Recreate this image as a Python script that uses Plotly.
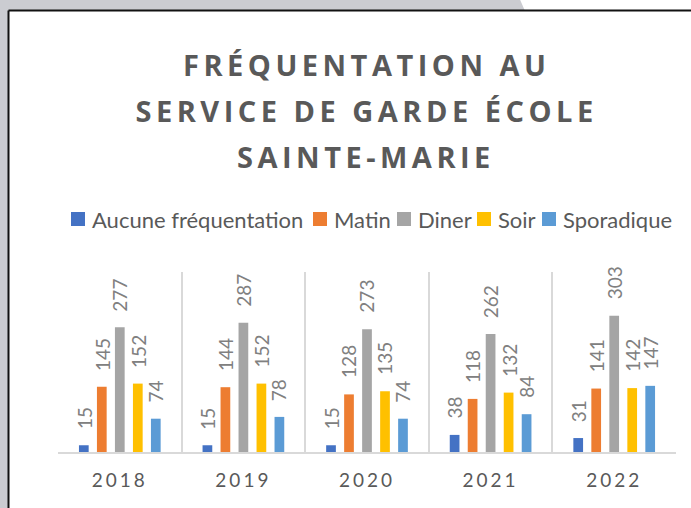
import plotly.graph_objects as go

years = ["2018", "2019", "2020", "2021", "2022"]
series_names = ["Aucune fréquentation", "Matin", "Diner", "Soir", "Sporadique"]
aucune = [15, 15, 15, 38, 31]
matin = [145, 144, 128, 118, 141]
diner = [277, 287, 273, 262, 303]
soir = [152, 152, 135, 132, 142]
sporadique = [74, 78, 74, 84, 147]
title_lines = ["FRÉQUENTATION AU", "SERVICE DE GARDE ÉCOLE", "SAINTE-MARIE"]

colors = ["#4472C4", "#ED7D31", "#A5A5A5", "#FFC000", "#5B9BD5"]
all_values = [aucune, matin, diner, soir, sporadique]

W, H = 691, 508
ML, MR, MT, MB = 58, 15, 272, 56
PW = W - ML - MR
PH = H - MT - MB
BARGAP = 0.272
BARGROUPGAP = 0.46


def px(x):
    return (x - ML) / PW


def py(y):
    return (H - MB - y) / PH


fig = go.Figure()
for name, vals, col in zip(series_names, all_values, colors):
    fig.add_trace(go.Bar(x=years, y=vals, name=name, marker_color=col,
                         marker_line_width=0, cliponaxis=False, showlegend=False))

# data labels (rotated) placed above each bar
n = len(series_names)
slot = (1 - BARGAP) / n
annotations = []
for j, vals in enumerate(all_values):
    for i, v in enumerate(vals):
        xc = i - (1 - BARGAP) / 2 + (j + 0.5) * slot
        annotations.append(dict(x=xc, y=v, xref="x", yref="y", text=str(v),
                                showarrow=False, textangle=-90,
                                xanchor="center", yanchor="bottom", yshift=14,
                                font=dict(family="Lato", size=19, color="#808080")))

# title lines
title_y = [64, 110, 156]
for t, yy in zip(title_lines, title_y):
    annotations.append(dict(x=px(366), y=py(yy), xref="paper", yref="paper",
                            text="<b>" + t + "</b>", showarrow=False,
                            xanchor="center", yanchor="middle",
                            font=dict(family="Open Sans", size=29, color="#595959")))

shapes = [
    # grey surround
    dict(type="rect", xref="paper", yref="paper", x0=px(-2), x1=px(9), y0=py(H + 5), y1=py(-5),
         fillcolor="#CBCCD1", line_width=0, layer="below"),
    dict(type="path", xref="paper", yref="paper",
         path="M %f,%f L %f,%f L %f,%f L %f,%f Z" % (px(-2), py(-5), px(518), py(-5), px(525), py(11), px(-2), py(11)),
         fillcolor="#CBCCD1", line_width=0, layer="below"),
    # black frame lines
    dict(type="line", xref="paper", yref="paper", x0=px(8.5), x1=px(W + 5), y0=py(10.5), y1=py(10.5),
         line=dict(color="#111111", width=2), layer="below"),
    dict(type="line", xref="paper", yref="paper", x0=px(8.5), x1=px(8.5), y0=py(10.5), y1=py(H + 5),
         line=dict(color="#111111", width=2), layer="below"),
]

# manual legend (square swatch + label) in one row
legend_left = [71, 313, 397, 477, 542]
legend_cy = 219
for name, col, lx in zip(series_names, colors, legend_left):
    shapes.append(dict(type="rect", xref="paper", yref="paper",
                       x0=px(lx), x1=px(lx + 14), y0=py(legend_cy + 7), y1=py(legend_cy - 7),
                       fillcolor=col, line_width=0))
    annotations.append(dict(x=px(lx + 19), y=py(legend_cy), xref="paper", yref="paper",
                            text=name, showarrow=False, xanchor="left", yanchor="middle",
                            font=dict(family="Lato", size=22, color="#595959")))

fig.update_layout(
    width=W, height=H,
    margin=dict(l=ML, r=MR, t=MT, b=MB, pad=0, autoexpand=False),
    paper_bgcolor="white", plot_bgcolor="white",
    barmode="group", bargap=BARGAP, bargroupgap=BARGROUPGAP,
    showlegend=False,
    annotations=annotations,
    shapes=shapes,
    font=dict(family="Lato", color="#595959"),
)
fig.update_xaxes(type="category", range=[-0.5, 4.5], tickson="boundaries", showgrid=True,
                 gridcolor="#D9D9D9", gridwidth=1.5, showline=True, linecolor="#D9D9D9",
                 linewidth=2, ticks="", ticklen=0, ticklabelstandoff=10,
                 tickfont=dict(family="Lato", size=19, color="#595959"))
fig.update_yaxes(range=[0, 400], visible=False, showgrid=False, zeroline=False)

post = """
document.body.style.margin = '0';
document.body.style.padding = '0';
var gd = document.getElementById('{plot_id}');
function sp(){
  gd.querySelectorAll('.annotation-text').forEach(function(t){
    if (/[A-Z]{3}/.test(t.textContent)) { t.style.letterSpacing = '4.5px'; }
  });
  gd.querySelectorAll('.xtick text').forEach(function(t){ t.style.letterSpacing = '3px'; });
}
sp();
gd.on('plotly_afterplot', sp);
"""
fig.write_html("out.html", post_script=post, config={"displayModeBar": False})
